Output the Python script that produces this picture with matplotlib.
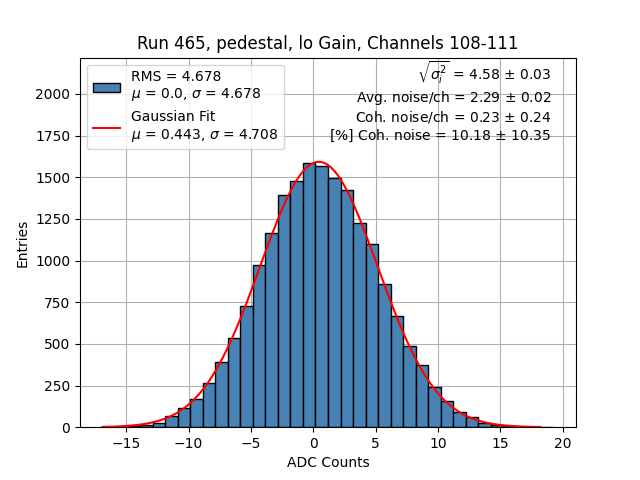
import numpy as np
import matplotlib
matplotlib.use("Agg")
import matplotlib.pyplot as plt

title = "Run 465, pedestal, lo Gain, Channels 108-111"
bin_lo, bin_hi, n_bins = -16.9, 19.25, 36
counts = [1, 2, 5, 15, 28, 68, 116, 170, 264, 392, 534, 728, 972, 1164, 1394,
          1476, 1584, 1570, 1494, 1422, 1226, 1098, 858, 667, 488, 372, 240,
          158, 90, 60, 24, 12, 5, 3, 1, 1]
rms, hist_mu, hist_sigma = 4.678, 0.0, 4.678
fit_amp, fit_mu, fit_sigma = 1592.0, 0.443, 4.708
fit_lo, fit_hi = -16.9, 18.2
stats_lines = [r"$\sqrt{\sigma_i^2}$ = 4.58 $\pm$ 0.03",
               r"Avg. noise/ch = 2.29 $\pm$ 0.02",
               r"Coh. noise/ch = 0.23 $\pm$ 0.24",
               r"[%] Coh. noise = 10.18 $\pm$ 10.35"]

edges = np.linspace(bin_lo, bin_hi, n_bins + 1)
centers = 0.5 * (edges[:-1] + edges[1:])

fig, ax = plt.subplots(figsize=(6.4, 4.8), dpi=100)
ax.hist(centers, bins=edges, weights=counts, color="steelblue", edgecolor="black",
        label=f"RMS = {rms}\n$\\mu$ = {hist_mu}, $\\sigma$ = {hist_sigma}", zorder=2)
xf = np.linspace(fit_lo, fit_hi, 300)
yf = fit_amp * np.exp(-0.5 * ((xf - fit_mu) / fit_sigma) ** 2)
ax.plot(xf, yf, color="red",
        label=f"Gaussian Fit\n$\\mu$ = {fit_mu}, $\\sigma$ = {fit_sigma}", zorder=3)
ax.set_ylim(0, 1.4 * max(counts))
ax.grid(True, zorder=0)
ax.set_axisbelow(True)
ax.set_title(title)
ax.set_xlabel("ADC Counts")
ax.set_ylabel("Entries")
ax.legend(loc="upper left")
ax.text(0.95, 0.993, "\n".join(stats_lines), transform=ax.transAxes,
        ha="right", va="top", multialignment="right")
fig.savefig("out.png", dpi=100)
